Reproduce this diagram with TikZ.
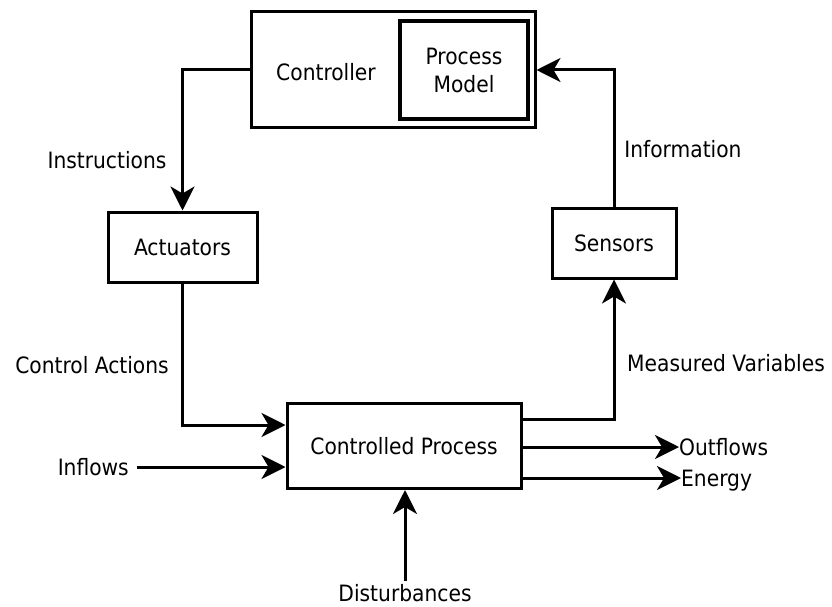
\documentclass[tikz,border=0pt]{standalone}
\usepackage{fontspec}
\setmainfont{DejaVu Sans Condensed}
\usetikzlibrary{arrows.meta}
\begin{document}
\begin{tikzpicture}[x=1pt,y=-1pt,
  box/.style={draw=black,line width=3pt,rectangle,inner sep=0pt,font=\fontsize{22.5}{28}\selectfont},
  lbl/.style={inner sep=0pt,font=\fontsize{22.5}{28}\selectfont},
  arr/.style={line width=3pt,-{Stealth[length=24pt,width=24pt,inset=7pt]}},
  ln/.style={line width=3pt}]
\useasboundingbox (0,0) rectangle (832,607);
% boxes
\node[box,minimum width=284pt,minimum height=116pt] (ctrl) at (393,70) {};
\node[lbl] (ctrltxt) at (326,72) {Controller};
\node[box,line width=3.6pt,minimum width=128pt,minimum height=98pt,align=center] (pm) at (464,70) {Process\\Model};
\node[box,minimum width=149pt,minimum height=70pt] (act) at (182.5,247) {Actuators};
\node[box,minimum width=124pt,minimum height=70pt] (sens) at (614,243) {Sensors};
\node[box,minimum width=234pt,minimum height=85pt] (proc) at (404,446) {Controlled Process};
% labels
\node[lbl] (instr) at (107,160) {Instructions};
\node[lbl] (info) at (683,149) {Information};
\node[lbl] (ca) at (92,365) {Control Actions};
\node[lbl] (mv) at (726,363) {Measured Variables};
\node[lbl,anchor=east,inner xsep=8pt] (inflows) at (137,467) {Inflows};
\node[lbl,anchor=west] (outflows) at (679,447) {Outflows};
\node[lbl,anchor=west] (energy) at (681,481) {Energy};
\node[lbl,anchor=north] (dist) at (405,584) {Disturbances};
% connectors
\draw[arr] (ctrl.west) -| (act.north);
\draw[arr] (act.south) |- ([yshift=21pt]proc.west);
\draw[arr] (inflows.east) -- (inflows.east -| proc.west);
\draw[arr] ([yshift=27pt]proc.east) -| (sens.south);
\draw[arr] (sens.north) |- (ctrl.east);
\draw[arr] (proc.east |- outflows.west) -- (outflows.west);
\draw[arr] ([yshift=3pt]proc.east |- energy.west) -- ([yshift=3pt]energy.west);
\draw[arr] ([yshift=3pt]dist.north) -- (dist.north |- proc.south);
\end{tikzpicture}
\end{document}
